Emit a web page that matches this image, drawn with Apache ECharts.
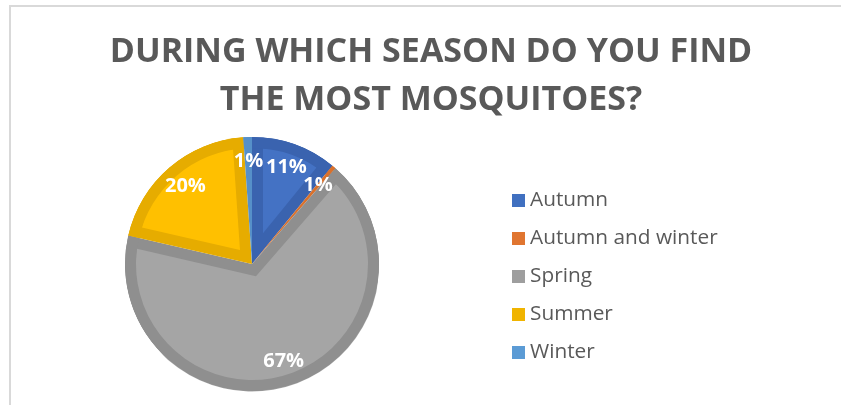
<!DOCTYPE html>
<html>
<head>
<meta charset="utf-8">
<style>
  html, body { margin: 0; padding: 0; background: #ffffff; }
  #chart { width: 841px; height: 405px; }
</style>
<script src="https://cdn.jsdelivr.net/npm/echarts@6/dist/echarts.min.js"></script>
</head>
<body>
<div id="chart"></div>
<script>
// Survey answers: season with the most mosquitoes (share of respondents, %)
const categories = ['Autumn', 'Autumn and winter', 'Spring', 'Summer', 'Winter'];
const shares = [10.9, 0.5, 67.2, 20.3, 1.1];
const titleLines = ['DURING WHICH SEASON DO YOU FIND', 'THE MOST MOSQUITOES?'];

// Slice fills, the darker rim/edge tone of each slice, and legend swatches
const fillColors = ['#4472C4', '#ED7D31', '#A5A5A5', '#FFC000', '#5B9BD5'];
const edgeColors = ['#3A63AF', '#D9712C', '#8F8F8F', '#E6AC00', '#5690C9'];
const legendColors = ['#4070C0', '#E07530', '#9E9E9E', '#F0B400', '#5B9BD5'];

// Pie geometry (pixels)
const CX = 252, CY = 264, R = 127, BAND = 11;

const total = shares.reduce((a, b) => a + b, 0);
const noHover = { disabled: true };
const base = {
  type: 'pie', center: [CX, CY], startAngle: 90, clockwise: true,
  silent: true, emphasis: noHover, padAngle: 0, minAngle: 0,
  label: { show: false }, labelLine: { show: false }
};

const series = [];

// Full slices in the darker edge tone
series.push(Object.assign({}, base, {
  name: 'edges', z: 1, radius: R,
  itemStyle: { borderWidth: 0 },
  data: categories.map((n, i) => ({ name: n, value: shares[i], itemStyle: { color: edgeColors[i] } }))
}));

// Lighter inner face of each slice, inset from its straight edges by BAND
let cum = 0;
categories.forEach((name, i) => {
  const a0 = cum / total * Math.PI * 2;
  cum += shares[i];
  const a1 = cum / total * Math.PI * 2;
  const half = (a1 - a0) / 2, mid = (a0 + a1) / 2;
  const shift = BAND / Math.sin(half);
  if (!(shift < R - BAND)) return;
  const rr = -shift * Math.cos(half) + Math.sqrt((R - BAND) * (R - BAND) - BAND * BAND);
  if (rr <= 2) return;
  series.push(Object.assign({}, base, {
    name: 'face-' + i, z: 2,
    center: [CX + shift * Math.sin(mid), CY - shift * Math.cos(mid)],
    radius: rr,
    startAngle: 90 - a0 * 180 / Math.PI,
    itemStyle: { borderWidth: 0 },
    data: [
      { value: shares[i], itemStyle: { color: fillColors[i] } },
      { value: total - shares[i], itemStyle: { color: 'rgba(0,0,0,0)' } }
    ]
  }));
});

// Dark rim ring on top of the faces
series.push(Object.assign({}, base, {
  name: 'rim', z: 3, radius: [R - BAND, R],
  itemStyle: { borderWidth: 0 },
  data: categories.map((n, i) => ({ value: shares[i], itemStyle: { color: edgeColors[i] } }))
}));

// White collar outside the pie
series.push(Object.assign({}, base, {
  name: 'collar', z: 4, radius: [R + 0.5, R + 16],
  itemStyle: { borderWidth: 0, color: '#ffffff' },
  data: categories.map((n, i) => ({ value: shares[i] }))
}));

// Percentage labels
series.push(Object.assign({}, base, {
  name: 'labels', z: 5, radius: [72, R], percentPrecision: 0,
  minShowLabelAngle: 0, avoidLabelOverlap: false,
  labelLayout: { hideOverlap: false },
  itemStyle: { borderWidth: 0, color: 'rgba(0,0,0,0)' },
  label: {
    show: true, position: 'inside', formatter: '{d}%',
    color: '#ffffff', fontFamily: 'Open Sans', fontWeight: 'bold', fontSize: 20
  },
  data: categories.map((n, i) => ({ value: shares[i] }))
}));

const chart = echarts.init(document.getElementById('chart'), null, { renderer: 'canvas' });
chart.setOption({
  animation: false,
  backgroundColor: '#ffffff',
  title: {
    text: titleLines.join('\n'),
    left: 431, top: 28, padding: 0, textAlign: 'center',
    textStyle: {
      fontFamily: 'Open Sans', fontWeight: 'bold', fontSize: 34,
      lineHeight: 48, color: '#595959'
    }
  },
  legend: {
    orient: 'vertical', left: 507, top: 185,
    itemWidth: 13, itemHeight: 13, itemGap: 17, icon: 'rect',
    selectedMode: false,
    textStyle: { fontFamily: 'Open Sans', fontSize: 20.8, lineHeight: 20, color: '#595959' },
    data: categories.map((n, i) => ({ name: n, itemStyle: { color: legendColors[i] } }))
  },
  graphic: [{
    type: 'rect', silent: true, z: -10,
    shape: { x: 10, y: 6, width: 1000, height: 1000 },
    style: { fill: 'none', stroke: '#d9d9d9', lineWidth: 2 }
  }],
  series: series
});
</script>
</body>
</html>
